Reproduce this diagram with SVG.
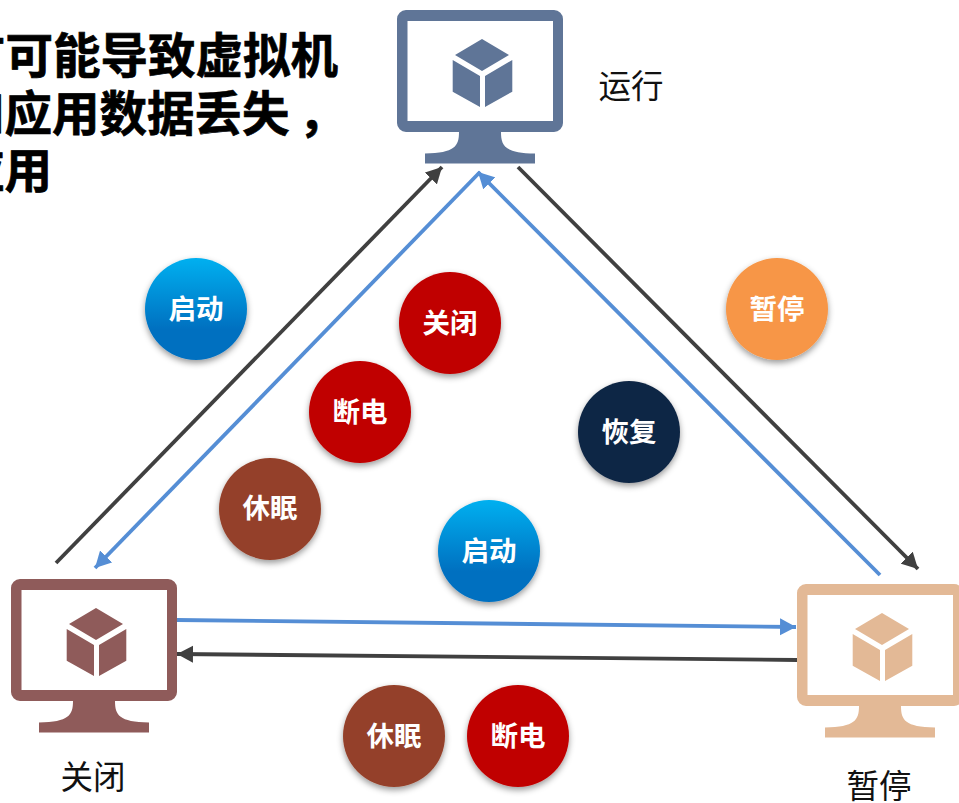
<svg xmlns="http://www.w3.org/2000/svg" width="959" height="803" viewBox="0 0 959 803">
<style>
text{font-family:"Noto Sans CJK SC","Noto Sans",sans-serif}
.title{font-size:47.5px;font-weight:700;fill:#000;stroke:#000;stroke-width:.7px}
.label{font-size:32.500px;fill:#111;text-anchor:middle}
.bt{font-size:27.500px;font-weight:700;fill:#fff;text-anchor:middle}
.k{stroke:#404040;stroke-width:3.8;fill:none;marker-end:url(#ak)}
.b{stroke:#558ed5;stroke-width:3.8;fill:none;marker-end:url(#ab)}
.c{filter:url(#sh)}
</style>
<defs>
<linearGradient id="gb" x1="0" y1="0" x2="0" y2="1"><stop offset="0" stop-color="#00b0f0"/><stop offset=".7" stop-color="#0070c0"/></linearGradient>
<filter id="sh" x="-20%" y="-20%" width="140%" height="150%"><feDropShadow dx="0" dy="3" stdDeviation="3" flood-color="#000" flood-opacity=".4"/></filter>
<marker id="ak" markerUnits="userSpaceOnUse" markerWidth="18" markerHeight="18" refX="16" refY="9" orient="auto"><path d="M0 0.500L16 9L0 17.500z" fill="#404040"/></marker>
<marker id="ab" markerUnits="userSpaceOnUse" markerWidth="18" markerHeight="18" refX="16" refY="9" orient="auto"><path d="M0 0.500L16 9L0 17.500z" fill="#558ed5"/></marker>
<symbol id="pc" width="167" height="154" viewBox="0 0 167 154" overflow="visible">
<path fill-rule="evenodd" d="M9 0H157a9 9 0 0 1 9 9V113a9 9 0 0 1-9 9H104C104 136 108 143 138 143.500V153.500H28V143.500C58 143 62 136 62 122H9a9 9 0 0 1-9-9V9a9 9 0 0 1 9-9zM10.500 11V111H156V11z"/>
<path d="M85 29L112 45L85 61L58 45zM55.700 50L83 66V97L55.700 81.700zM88 66L115.300 50V81.700L88 97z"/>
</symbol>
</defs>
<rect width="959" height="803" fill="#fff"/>
<g id="title">
<text class="title" x="-42" y="73">有可能导致虚拟机</text>
<text class="title" x="-43" y="131">和应用数据丢失<tspan dx="9">，</tspan></text>
<text class="title" x="-43" y="188">应用</text>
</g>
<g id="connectors">
<line class="k" x1="56" y1="563" x2="442" y2="167"/>
<line class="b" x1="480" y1="172" x2="95" y2="568"/>
<line class="k" x1="518" y1="167" x2="918" y2="569"/>
<line class="b" x1="880" y1="575" x2="478" y2="172"/>
<line class="b" x1="177" y1="620" x2="796" y2="627"/>
<line class="k" x1="797" y1="660" x2="177" y2="654"/>
</g>
<g id="node-run"><use href="#pc" x="397" y="10" fill="#5f7597"/><text class="label" x="631" y="98">运行</text></g>
<g id="node-off"><use href="#pc" x="11" y="579" fill="#8f5b5a"/><text class="label" x="93" y="789">关闭</text></g>
<g id="node-pause"><use href="#pc" x="797" y="584" fill="#e3b996"/><text class="label" x="879" y="798">暂停</text></g>
<g id="btn-start1"><circle class="c" cx="196" cy="309" r="51" fill="url(#gb)"/><text class="bt" x="196" y="319">启动</text></g>
<g id="btn-close"><circle class="c" cx="450" cy="323" r="51" fill="#c00000"/><text class="bt" x="450" y="333">关闭</text></g>
<g id="btn-poweroff1"><circle class="c" cx="360" cy="412" r="51" fill="#c00000"/><text class="bt" x="360" y="422">断电</text></g>
<g id="btn-sleep1"><circle class="c" cx="270" cy="509" r="51" fill="#94412a"/><text class="bt" x="270" y="518">休眠</text></g>
<g id="btn-start2"><circle class="c" cx="489" cy="551" r="51" fill="url(#gb)"/><text class="bt" x="489" y="561">启动</text></g>
<g id="btn-resume"><circle class="c" cx="629" cy="432" r="51" fill="#0f2644"/><text class="bt" x="629" y="442">恢复</text></g>
<g id="btn-pause"><circle class="c" cx="777" cy="309" r="51" fill="#f79646"/><text class="bt" x="777" y="319">暂停</text></g>
<g id="btn-sleep2"><circle class="c" cx="394" cy="736" r="51" fill="#94412a"/><text class="bt" x="394" y="746">休眠</text></g>
<g id="btn-poweroff2"><circle class="c" cx="518" cy="736" r="51" fill="#c00000"/><text class="bt" x="518" y="746">断电</text></g>
</svg>
